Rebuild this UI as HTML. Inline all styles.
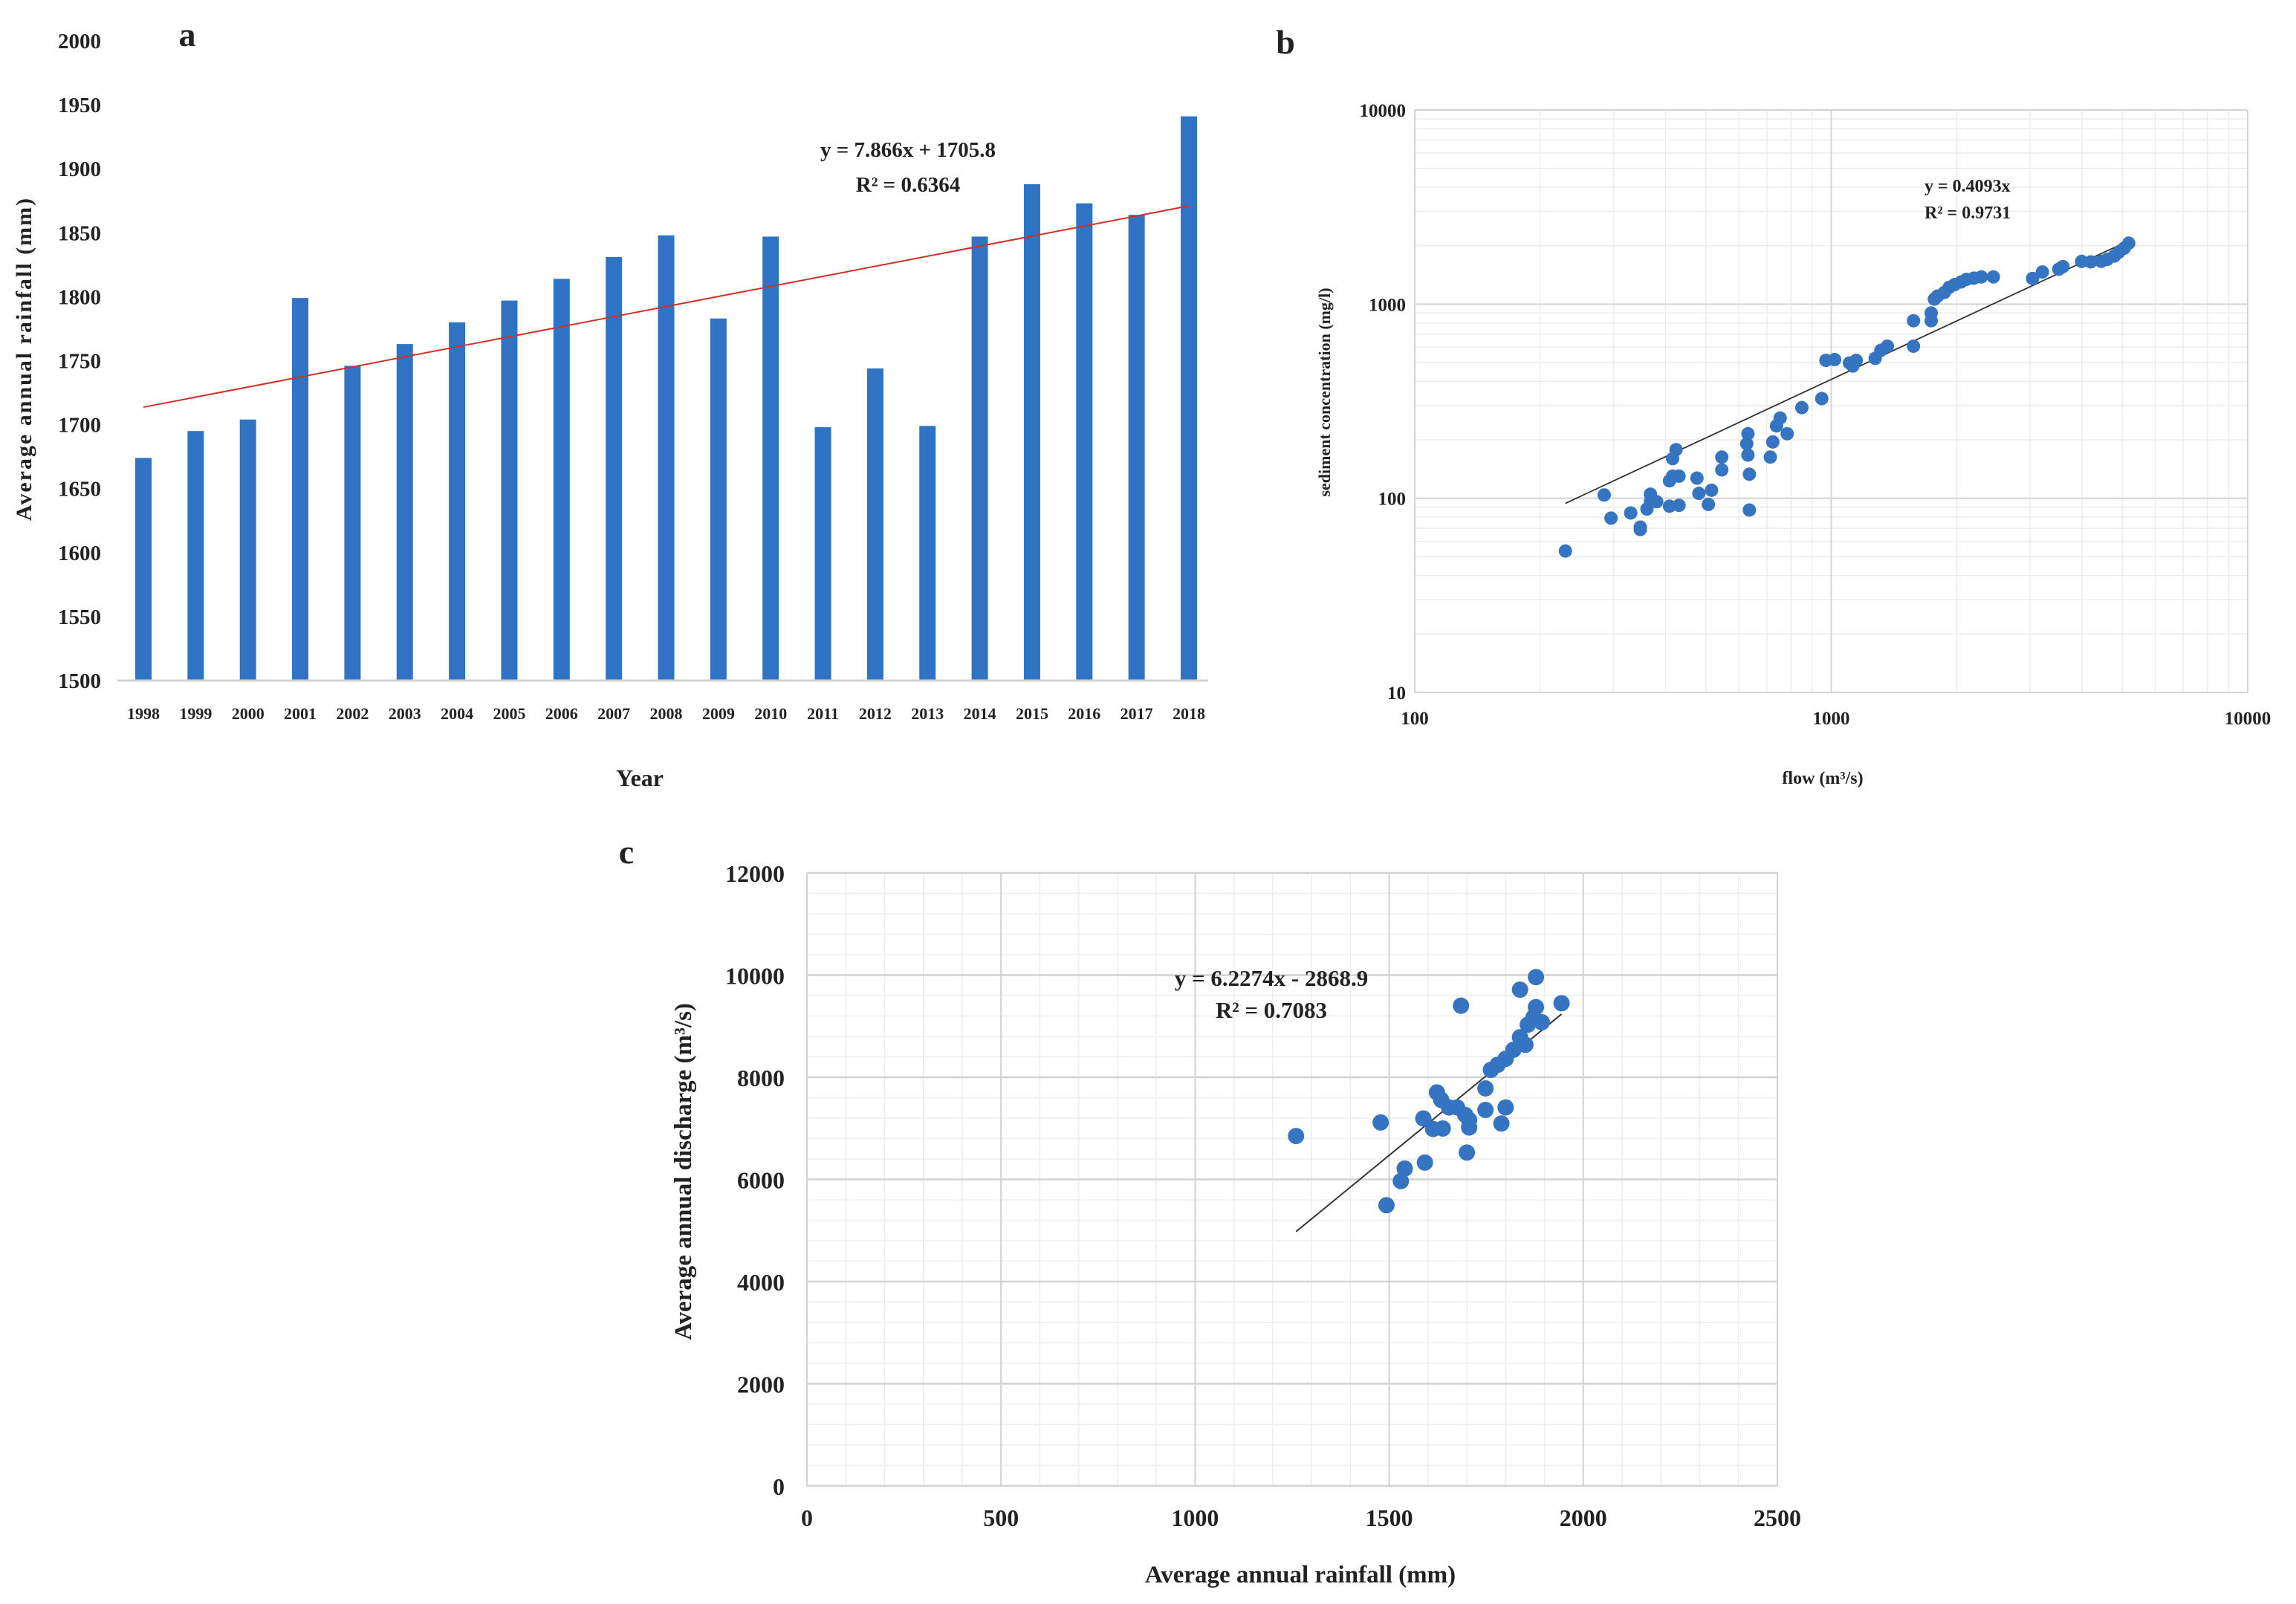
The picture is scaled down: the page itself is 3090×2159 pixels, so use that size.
<!DOCTYPE html>
<html><head><meta charset="utf-8"><style>
html,body{margin:0;padding:0;background:#fff}
svg{display:block}
text{font-family:"Liberation Serif",serif;font-weight:bold;fill:#222}
</style></head><body>
<svg id="fig" width="3090" height="2159" viewBox="0 0 3090 2159" xmlns="http://www.w3.org/2000/svg"></svg>
<script>
const yearsA=["1998","1999","2000","2001","2002","2003","2004","2005","2006","2007","2008","2009","2010","2011","2012","2013","2014","2015","2016","2017","2018"];
const rainA=[1674,1695,1704,1799,1746,1763,1780,1797,1814,1831,1848,1783,1847,1698,1744,1699,1847,1888,1873,1864,1941];
const ticksA=[1500,1550,1600,1650,1700,1750,1800,1850,1900,1950,2000];
const trendA=[7.866,1705.8];
const flowB=[230,285,296,330,348,348,361,368,368,381,409,416,424,409,416,431,431,476,481,507,516,546,546,627,631,631,636,636,714,724,739,754,784,850,949,971,1019,1106,1127,1148,1275,1316,1364,1576,1576,1738,1738,1769,1869,1978,2111,2294,2451,3044,3214,3518,3993,4450,4784,5050,5180,1800,1920,2050,2200,3600,4200,4600,4900];
const concB=[53.5,104,79,84,71,69,88,105,96,96,91,160,178,123,130,130,92,127,106,93,110,163,140,191,215,167,133,87,163,195,236,259,215,293,326,513,518,498,480,513,526,578,607,607,821,900,821,1061,1148,1260,1340,1381,1381,1355,1464,1514,1660,1660,1768,1940,2060,1100,1220,1300,1360,1560,1650,1700,1850];
const ticksBx=[100,1000,10000];
const ticksBy=[10,100,1000,10000];
const slopeB=0.4093;
const rainC=[1260,1478,1493,1530,1540,1592,1588,1613,1623,1634,1638,1654,1675,1685,1696,1700,1706,1706,1748,1748,1762,1779,1789,1800,1800,1820,1837,1837,1851,1857,1872,1878,1878,1893,1944];
const disC=[6850,7115,5495,5967,6212,6330,7193,6987,7704,7556,6997,7409,7409,9401,7262,6526,7017,7164,7360,7782,8145,8243,7095,7409,8361,8538,8783,9715,8636,9028,9175,9372,9961,9077,9450];
const ticksCx=[0,500,1000,1500,2000,2500];
const ticksCy=[0,2000,4000,6000,8000,10000,12000];
const trendC=[6.2274,-2868.9];

const NS="http://www.w3.org/2000/svg";
const svg=document.getElementById('fig');
function el(tag,attrs,parent,txt){const e=document.createElementNS(NS,tag);for(const k in attrs)e.setAttribute(k,attrs[k]);if(txt!==undefined)e.textContent=txt;(parent||svg).appendChild(e);return e;}
function grp(name){const g=el('g',{});return g;}

// ---------- Chart A ----------
const gA=grp('chart-a-rainfall-bars');
const aL=158,aR=1626,aY0=916,aY1=55;
const xA=i=>193+i*70.35;
const yA=v=>aY0-(v-1500)/(2000-1500)*(aY0-aY1);
let t=el('text',{x:252,y:62,'font-size':46,'text-anchor':'middle'},gA,'a');

ticksA.forEach(v=>{const tt=el('text',{x:136,y:yA(v)+10,'font-size':29,'text-anchor':'end'},gA,String(v));
});
rainA.forEach((v,i)=>{const r=el('rect',{x:xA(i)-11,y:yA(v),width:22,height:aY0-yA(v),fill:'#2e73c4'},gA);

const tl=el('text',{x:xA(i),y:968,'font-size':22,'text-anchor':'middle'},gA,yearsA[i]);
});
let ax=el('line',{x1:aL,x2:aR,y1:aY0,y2:aY0,stroke:'#d0d0d0','stroke-width':3},gA);

let tr=el('line',{x1:xA(0),y1:yA(trendA[0]*1+trendA[1]),x2:xA(20),y2:yA(trendA[0]*21+trendA[1]),stroke:'#d0302a','stroke-width':2},gA);

t=el('text',{x:1222,y:211,'font-size':29,'text-anchor':'middle'},gA,'y = 7.866x + 1705.8');

t=el('text',{x:1222,y:258,'font-size':29,'text-anchor':'middle'},gA,'R² = 0.6364');

t=el('text',{x:861,y:1058,'font-size':32,'text-anchor':'middle'},gA,'Year');

t=el('text',{x:0,y:0,'font-size':30,'text-anchor':'middle','letter-spacing':2,transform:'translate(42,483) rotate(-90)'},gA,'Average annual rainfall (mm)');


// ---------- Chart B ----------
const gB=grp('chart-b-sediment-scatter');
const bL=1904,bR=3025,bT=148,bB=932;
const xB=f=>bL+(Math.log10(f)-2)/2*(bR-bL);
const yB=c=>bB-(Math.log10(c)-1)/3*(bB-bT);
for(let d=1;d<=3;d++)for(let m=1;m<=9;m++){const v=Math.pow(10,d)*m;const y=yB(v);
if(m>1)el('line',{x1:bL,x2:bR,y1:y,y2:y,stroke:'#ececec','stroke-width':1.5},gB);}
for(let d=2;d<=3;d++)for(let m=2;m<=9;m++){const x=xB(Math.pow(10,d)*m);el('line',{x1:x,x2:x,y1:bT,y2:bB,stroke:'#ececec','stroke-width':1.5},gB);}
ticksBy.forEach(v=>{el('line',{x1:bL,x2:bR,y1:yB(v),y2:yB(v),stroke:'#d4d4d4','stroke-width':2},gB);
const tt=el('text',{x:bL-12,y:yB(v)+9,'font-size':25,'text-anchor':'end'},gB,String(v));
});
ticksBx.forEach(v=>{el('line',{x1:xB(v),x2:xB(v),y1:bT,y2:bB,stroke:'#d4d4d4','stroke-width':2},gB);
const tt=el('text',{x:xB(v),y:975,'font-size':25,'text-anchor':'middle'},gB,String(v));
});
tr=el('line',{x1:xB(230),y1:yB(230*slopeB),x2:xB(5000),y2:yB(5000*slopeB),stroke:'#333','stroke-width':1.8},gB);

flowB.forEach((f,i)=>{const c=el('circle',{cx:xB(f),cy:yB(concB[i]),r:9,fill:'#3574c0'},gB);
});
t=el('text',{x:1730,y:72,'font-size':46,'text-anchor':'middle'},gB,'b');

t=el('text',{x:2590,y:258,'font-size':24},gB,'y = 0.4093x');

t=el('text',{x:2590,y:294,'font-size':24},gB,'R² = 0.9731');

t=el('text',{x:2453,y:1055,'font-size':24,'text-anchor':'middle'},gB,'flow (m³/s)');

t=el('text',{x:0,y:0,'font-size':22,'text-anchor':'middle',transform:'translate(1790,528) rotate(-90)'},gB,'sediment concentration (mg/l)');


// ---------- Chart C ----------
const gC=grp('chart-c-discharge-scatter');
const cL=1086,cR=2392,cT=1175,cB=2000;
const xC=v=>cL+v/2500*(cR-cL);
const yC=v=>cB-v/12000*(cB-cT);
for(let v=0;v<=12000;v+=400)el('line',{x1:cL,x2:cR,y1:yC(v),y2:yC(v),stroke:'#ededed','stroke-width':1.5},gC);
for(let v=0;v<=2500;v+=100)el('line',{x1:xC(v),x2:xC(v),y1:cT,y2:cB,stroke:'#ededed','stroke-width':1.5},gC);
ticksCy.forEach(v=>{el('line',{x1:cL,x2:cR,y1:yC(v),y2:yC(v),stroke:'#d2d2d2','stroke-width':2.5},gC);
const tt=el('text',{x:1056,y:yC(v)+12,'font-size':32,'text-anchor':'end'},gC,String(v));
});
ticksCx.forEach(v=>{el('line',{x1:xC(v),x2:xC(v),y1:cT,y2:cB,stroke:'#d2d2d2','stroke-width':2},gC);
const tt=el('text',{x:xC(v),y:2054,'font-size':32,'text-anchor':'middle'},gC,String(v));
});
tr=el('line',{x1:xC(1260),y1:yC(1260*trendC[0]+trendC[1]),x2:xC(1944),y2:yC(1944*trendC[0]+trendC[1]),stroke:'#333','stroke-width':2},gC);

rainC.forEach((v,i)=>{const c=el('circle',{cx:xC(v),cy:yC(disC[i]),r:11,fill:'#3574c0'},gC);
});
t=el('text',{x:843,y:1162,'font-size':46,'text-anchor':'middle'},gC,'c');

t=el('text',{x:1711,y:1327,'font-size':31,'text-anchor':'middle'},gC,'y = 6.2274x - 2868.9');

t=el('text',{x:1711,y:1370,'font-size':31,'text-anchor':'middle'},gC,'R² = 0.7083');

t=el('text',{x:1750,y:2130,'font-size':33,'text-anchor':'middle'},gC,'Average annual rainfall (mm)');

t=el('text',{x:0,y:0,'font-size':33,'text-anchor':'middle',transform:'translate(930,1577) rotate(-90)'},gC,'Average annual discharge (m³/s)');

</script>
</body></html>
